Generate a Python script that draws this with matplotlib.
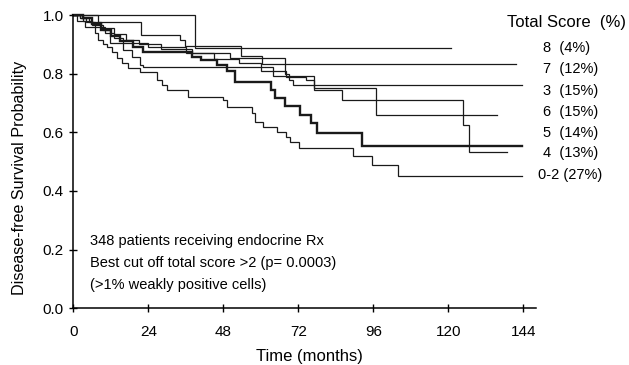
import matplotlib
matplotlib.use("Agg")
import matplotlib.pyplot as plt

plt.rcParams.update({
    "font.family": ["Liberation Sans", "DejaVu Sans"],
    "font.size": 10.5,
})

# Kaplan-Meier steps: drop times (months), survival after
# each drop, and the last follow-up time of the group.
T8 = [0, 39.0]
S8 = [1.0, 0.889]
END8 = 121.0

T7 = [0, 8.0, 21.7, 34.1, 35.7, 53.8, 60.4]
S7 = [1.0, 0.975, 0.932, 0.915, 0.894, 0.860, 0.832]
END7 = 141.7

T3 = [0, 2.0, 5.0, 9.0, 13.0, 17.0, 21.0, 28.0, 38.0, 50.0, 67.7, 69.0, 70.4]
S3 = [1.0, 0.99, 0.975, 0.955, 0.935, 0.915, 0.90, 0.885, 0.87, 0.855, 0.80, 0.78, 0.761]
END3 = 143.6

T6 = [0, 3.0, 6.0, 9.6, 11.7, 16.0, 18.7, 21.3, 22.4, 64.0, 76.9, 96.9]
S6 = [1.0, 0.98, 0.965, 0.949, 0.903, 0.881, 0.858, 0.830, 0.824, 0.792, 0.752, 0.659]
END6 = 135.7

T5 = [0, 3.0, 6.0, 9.0, 12.0, 15.0, 19.0, 22.4, 37.9, 41.0, 46.0, 49.1, 51.7,
      63.4, 64.5, 67.6, 72.4, 76.0, 78.0, 92.3]
S5 = [1.0, 0.99, 0.97, 0.95, 0.93, 0.91, 0.89, 0.875, 0.858, 0.846, 0.83, 0.81, 0.773,
      0.744, 0.716, 0.690, 0.659, 0.631, 0.597, 0.553]
END5 = 143.6

T4 = [0, 2.0, 4.0, 7.0, 10.0, 13.0, 16.0, 24.0, 36.0, 45.0, 53.0, 60.0, 68.0,
      74.5, 76.9, 85.9, 124.6, 126.7]
S4 = [1.0, 0.99, 0.975, 0.96, 0.94, 0.92, 0.905, 0.89, 0.87, 0.85, 0.835, 0.81, 0.79,
      0.778, 0.744, 0.710, 0.626, 0.534]
END4 = 138.8

T02 = [0, 1.1, 3.7, 6.9, 8.0, 9.6, 10.7, 12.3, 13.9, 15.5, 17.6, 21.3, 26.7, 28.3,
       29.9, 36.8, 48.0, 49.1, 57.1, 58.1, 60.8, 65.1, 68.1, 69.3, 72.3, 89.4, 95.5, 104.0]
S02 = [1.0, 0.98, 0.96, 0.94, 0.915, 0.90, 0.89, 0.875, 0.852, 0.835, 0.82, 0.807, 0.778,
       0.761, 0.744, 0.721, 0.710, 0.687, 0.665, 0.636, 0.619, 0.602, 0.585, 0.568,
       0.545, 0.519, 0.489, 0.451]
END02 = 143.6

GROUPS = ["8", "7", "3", "6", "5", "4", "0-2"]
PCT = [4, 12, 15, 15, 14, 13, 27]

INK = "#1a1a1a"


def km(ax, t, s, end, lw=0.9):
    ax.step(t + [end], s + [s[-1]], where="post", color=INK, lw=lw,
            clip_on=False, solid_joinstyle="miter")


fig = plt.figure(figsize=(6.29, 3.65), dpi=100)
ax = fig.add_axes([0.1166, 0.1553, 0.7353, 0.8036])

km(ax, T8, S8, END8)
km(ax, T7, S7, END7)
km(ax, T3, S3, END3)
km(ax, T6, S6, END6)
km(ax, T4, S4, END4)
km(ax, T02, S02, END02)
km(ax, T5, S5, END5, lw=1.7)

ax.set_xlim(0, 148)
ax.set_ylim(0, 1.0)
ax.set_xticks(range(0, 145, 24))
ax.set_yticks([0, 0.2, 0.4, 0.6, 0.8, 1.0])
ax.set_yticklabels(["0.0", "0.2", "0.4", "0.6", "0.8", "1.0"])
for side in ("top", "right"):
    ax.spines[side].set_visible(False)
for side in ("left", "bottom"):
    ax.spines[side].set_linewidth(1.1)
ax.tick_params(direction="inout", length=6, width=1.0, labelsize=11)
ax.tick_params(axis="x", pad=9)
ax.tick_params(axis="y", pad=4)

ax.set_xlabel("Time (months)", fontsize=12)
ax.xaxis.set_label_coords(0.51, -0.14)
ax.set_ylabel("Disease-free Survival Probability", fontsize=11.6)
ax.yaxis.set_label_coords(-0.1, 0.444)

# right-hand group labels
ax.text(138.8, 0.973, "Total Score  (%)", fontsize=12, va="center", ha="left", clip_on=False)
label_y = [0.889, 0.817, 0.742, 0.671, 0.599, 0.528, 0.456]
for g, p, y in zip(GROUPS, PCT, label_y):
    if g == "0-2":
        ax.text(148.8, y, f"{g} ({p}%)", fontsize=10.5, va="center", ha="left", clip_on=False)
    else:
        ax.text(150.4, y, f"{g}  ({p}%)", fontsize=10.5, va="center", ha="left", clip_on=False)

notes = ["348 patients receiving endocrine Rx",
         "Best cut off total score >2 (p= 0.0003)",
         "(>1% weakly positive cells)"]
for note, y in zip(notes, [0.229, 0.153, 0.079]):
    ax.text(5.3, y, note, fontsize=10.5, va="center", ha="left")

fig.savefig("out.png", dpi=100)
